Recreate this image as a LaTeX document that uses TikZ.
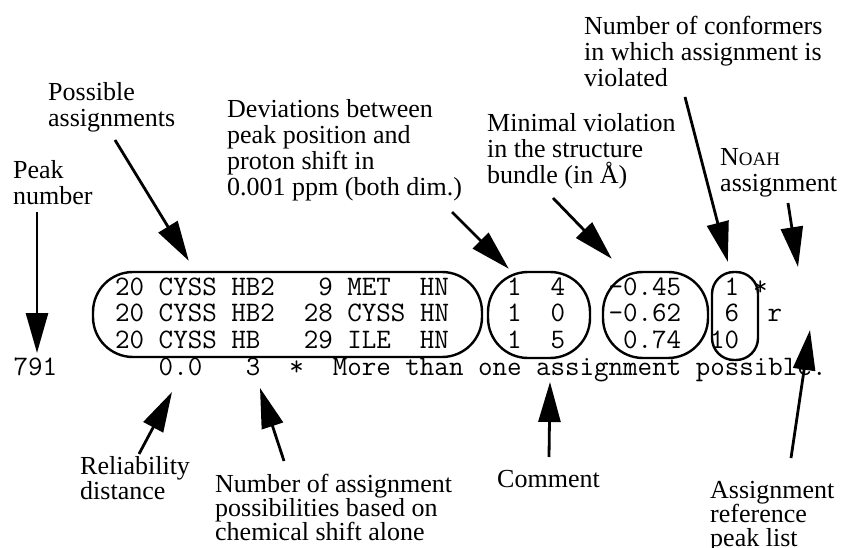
\documentclass[tikz,border=0pt]{standalone}
\usepackage{fontspec}
\setmainfont{Liberation Serif}
\usetikzlibrary{arrows.meta,calc}
\newcommand\codefont{\ttfamily\fontsize{28.2}{26}\selectfont\spaceskip 14.5pt\relax}
\tikzset{
 lbl/.style={anchor=base west,inner sep=0pt,align=left,font=\fontsize{26}{26}\selectfont},
 lowlbl/.style={lbl,font=\fontsize{26}{24}\selectfont},
 code/.style={anchor=base west,inner sep=0pt,font=\codefont},
 group/.style={draw,line width=2.4pt,rounded corners=40pt,inner sep=0pt},
 pointer/.style={-{Triangle[length=40pt,width=22pt]},line width=2.8pt}
}
\begin{document}
\begin{tikzpicture}[x=1pt,y=-1pt]
\useasboundingbox (0,0) rectangle (841,548);
\pgfmathsetmacro{\cw}{14.5}
\pgfmathsetmacro{\cx}{13.5}
\node[code](row1)at({\cx+7*\cw},295){20~CYSS~HB2~~~9~MET~~HN~~~~1~~4~~~-0.45~~~1};
\node[code](row2)at({\cx+7*\cw},321.5){20~CYSS~HB2~~28~CYSS~HN~~~~1~~0~~~-0.62~~~6};
\node[code](row3)at({\cx+7*\cw},348){20~CYSS~HB~~~29~ILE~~HN~~~~1~~5~~~~0.74~~10};
\node[code](star)at({\cx+51*\cw},295){*};
\node[code](flag)at({\cx+52*\cw},321.5){r};
\node[code](summary)at(\cx,375){791~~~~~~~0.0~~~3~~*~~More~than~one~assignment~possible.};
\node[group,minimum width=389pt,minimum height=85pt](assignbox)at(287.5,314.5){};
\node[group,minimum width=102pt,minimum height=86pt](devbox)at(539,315){};
\node[group,minimum width=105pt,minimum height=86pt](violbox)at(655.5,315){};
\node[group,rounded corners=22pt,minimum width=46pt,minimum height=88pt](confbox)at(735,316){};
\node[lbl](peak)at(13,205){Peak\\number};
\node[lbl](possible)at(48,127){Possible\\assignments};
\node[lbl](deviation)at(227,196){Deviations between\\peak position and\\proton shift in\\0.001 ppm (both dim.)};
\node[lbl](minimal)at(487,184){Minimal violation\\in the structure\\bundle (in Å)};
\node[lbl](conformers)at(584,87){Number of conformers\\in which assignment is\\violated};
\node[lbl](noah)at(720,192){N{\fontsize{19}{26}\selectfont OAH}\\assignment};
\node[lbl,font=\fontsize{26}{19}\selectfont](reliability)at(80,499){Reliability\\distance};
\node[lowlbl](possibilities)at(215,540){Number of assignment\\possibilities based on\\chemical shift alone};
\node[lbl](comment)at(497,487){Comment};
\node[lowlbl](reference)at(710,546){Assignment\\reference\\peak list};
\draw[pointer]($(peak.base west)+(24,7)$)--($(summary.base west)+(23.5,-22)$);
\draw[pointer]($(possible.base west)+(67,13)$)--($(assignbox.north west)+(97,-10)$);
\draw[pointer]($(deviation.base west)+(225,16)$)--($(devbox.north west)+(22,-2)$);
\draw[pointer]($(minimal.base west)+(66,14)$)--($(violbox.north west)+(10,-12)$);
\draw[pointer]($(conformers.base west)+(101,10)$)--($(confbox.north west)+(17,-9)$);
\draw[pointer]($(noah.base west)+(68,11)$)--($(star.base west)+(45,-28)$);
\draw[pointer]($(reliability.base west)+(59,-45)$)--($(summary.base west)+(158.5,17)$);
\draw[pointer]($(possibilities.base west)+(69,-79)$)--($(summary.base west)+(246.5,13)$);
\draw[pointer]($(comment.base west)+(52,-30)$)--($(summary.base west)+(536.5,7)$);
\draw[pointer]($(reference.base west)+(81,-88)$)--($(flag.base west)+(42.5,8.5)$);
\end{tikzpicture}
\end{document}
